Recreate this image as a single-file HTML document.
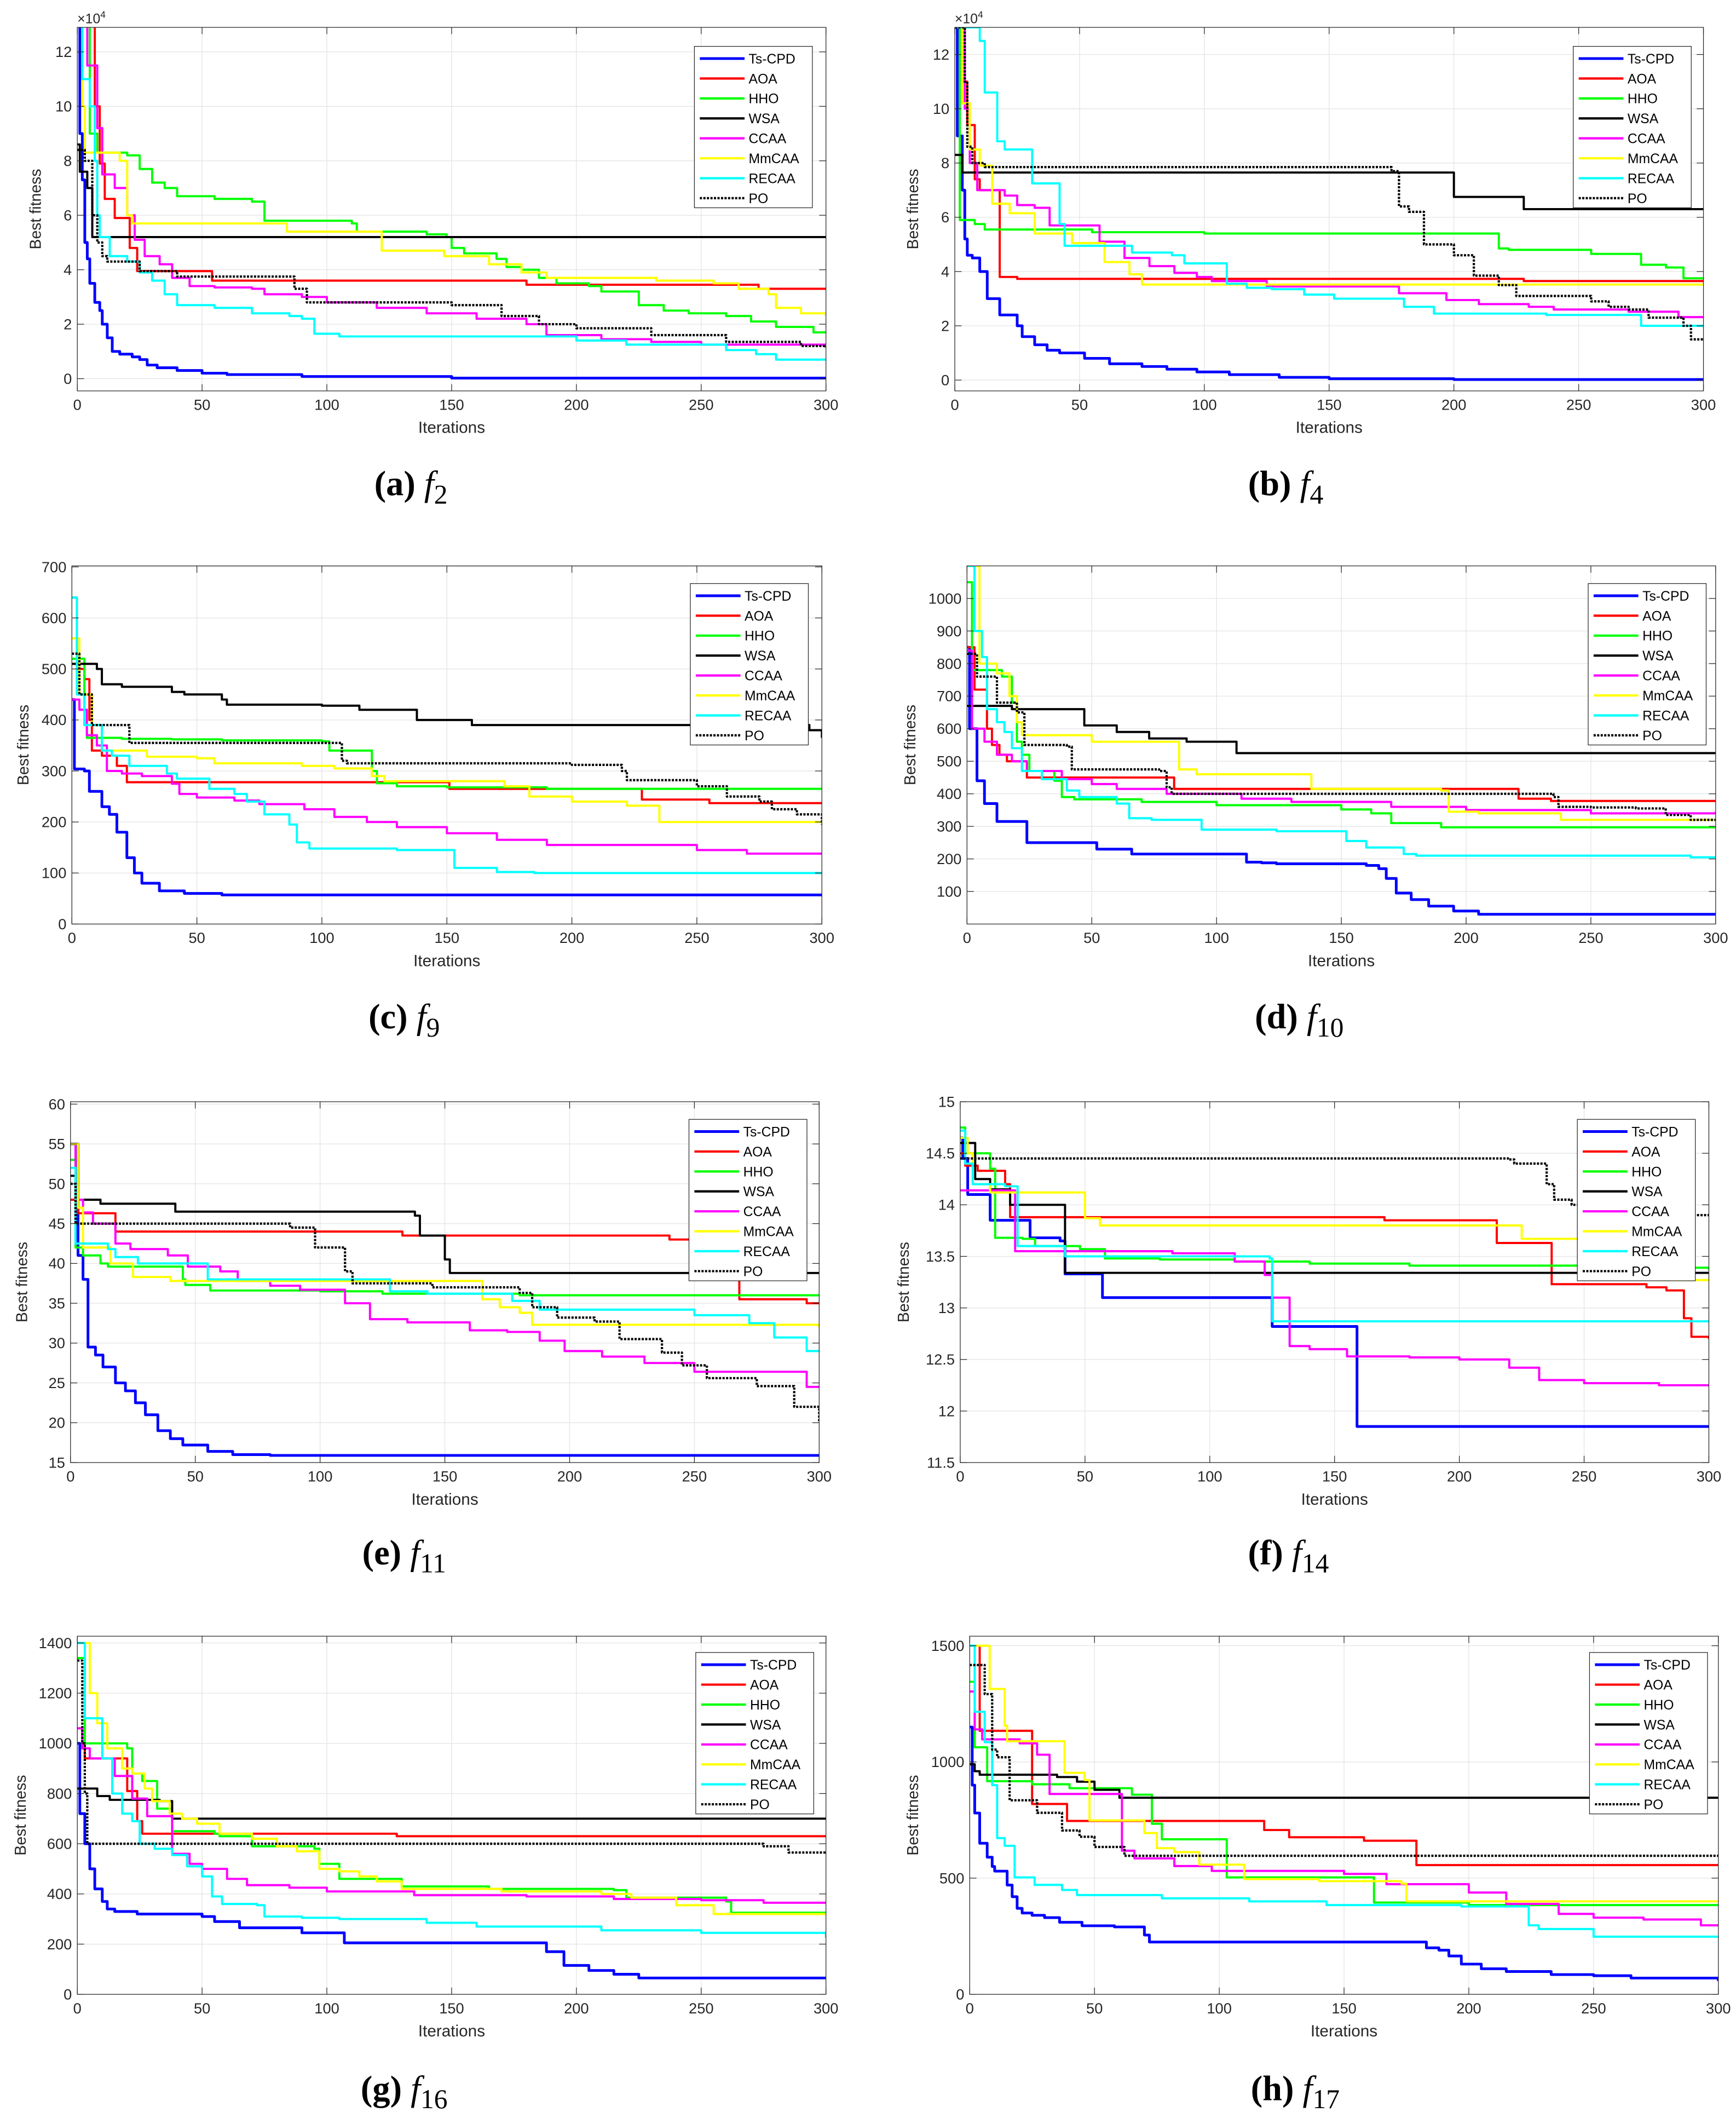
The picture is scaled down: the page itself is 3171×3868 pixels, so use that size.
<!DOCTYPE html>
<html><head><meta charset="utf-8"><style>
html,body{margin:0;padding:0;background:#fff;}
svg{display:block;}
</style></head><body>
<svg id="fig" xmlns="http://www.w3.org/2000/svg" width="3171" height="3868" viewBox="0 0 1280 1561"></svg>
<script>
const algoNames = ["Ts-CPD","AOA","HHO","WSA","CCAA","MmCAA","RECAA","PO"];
const algoColors = ["#0000ff","#ff0000","#00ff00","#000000","#ff00ff","#ffff00","#00ffff","#000000"];
const xTicks = [0,50,100,150,200,250,300];

const f2Series = [
 [[0,13],[1,9],[2,7.3],[3,5],[4,4.4],[5,3.5],[7,2.8],[9,2.5],[10,2],[12,1.5],[14,1],[17,0.9],[22,0.8],[25,0.7],[28,0.5],[32,0.4],[40,0.3],[50,0.2],[60,0.15],[90,0.08],[150,0.02],[300,0.02]],
 [[0,13],[7,10],[9,7.9],[11,6.6],[15,5.9],[21,4.8],[24,3.95],[54,3.6],[180,3.45],[273,3.3],[300,3.3]],
 [[0,13],[5,9],[8,8.3],[20,8.2],[25,7.7],[30,7.2],[35,7],[40,6.7],[55,6.6],[70,6.5],[75,5.8],[110,5.7],[112,5.4],[140,5.3],[148,5.2],[150,4.8],[155,4.6],[168,4.4],[172,4.1],[178,4],[185,3.7],[192,3.5],[205,3.4],[210,3.2],[225,2.7],[235,2.5],[245,2.4],[260,2.3],[270,2.1],[280,1.9],[295,1.7],[300,1.7]],
 [[0,8.6],[1,7.6],[4,7],[6,5.2],[300,5.2]],
 [[0,13],[4,11.5],[8,9.2],[10,7.5],[15,7],[20,6],[23,5.1],[27,4.5],[33,4.2],[38,3.7],[45,3.4],[55,3.35],[70,3.3],[75,3.1],[90,3],[100,2.8],[120,2.6],[140,2.4],[160,2.2],[180,2],[188,1.6],[210,1.45],[230,1.35],[250,1.25],[300,1.15]],
 [[0,13],[2,10],[3,8.3],[17,8],[20,6],[22,5.7],[84,5.4],[122,4.7],[147,4.5],[165,4.2],[178,3.9],[188,3.7],[232,3.6],[255,3.5],[265,3.3],[277,3.1],[280,2.6],[290,2.4],[300,2.3]],
 [[0,13],[2,11],[5,10],[7,8],[8,6],[9,5.2],[13,4.5],[20,4.3],[25,3.9],[30,3.6],[35,3.1],[40,2.7],[55,2.6],[70,2.4],[85,2.3],[90,2.2],[95,1.65],[105,1.55],[200,1.4],[220,1.25],[260,1.05],[272,0.9],[280,0.7],[300,0.7]],
 [[0,8.4],[3,8],[6,6],[8,5],[10,4.5],[12,4.3],[25,3.95],[40,3.75],[87,3.3],[92,2.8],[150,2.7],[170,2.3],[185,2],[200,1.85],[230,1.6],[260,1.35],[290,1.2],[300,1.15]]
];
const f4Series = [
 [[0,13],[1,9],[3,7],[4,5.2],[5,4.6],[7,4.5],[10,4],[13,3],[18,2.4],[25,2],[27,1.6],[32,1.3],[37,1.1],[42,1],[52,0.8],[62,0.6],[75,0.5],[85,0.4],[97,0.3],[110,0.2],[130,0.1],[150,0.05],[200,0.02],[300,0.02]],
 [[0,13],[3,11],[5,9.4],[8,7.4],[10,7.0],[18,3.8],[25,3.73],[228,3.65],[300,3.65]],
 [[0,13],[2,5.9],[8,5.75],[12,5.55],[55,5.45],[100,5.4],[218,4.85],[222,4.8],[255,4.65],[275,4.25],[285,4.15],[292,3.75],[300,3.75]],
 [[0,8.3],[3,7.65],[200,6.75],[228,6.3],[300,6.3]],
 [[0,13],[4,10],[6,8],[9,7.0],[20,6.8],[25,6.45],[32,6.35],[38,5.7],[58,5.1],[68,4.5],[78,4.2],[88,3.95],[97,3.8],[103,3.65],[125,3.45],[178,3.2],[197,2.95],[210,2.8],[230,2.7],[240,2.6],[270,2.52],[290,2.32],[300,2.32]],
 [[0,13],[3,10.2],[6,8.5],[10,7.9],[15,6.5],[18,6.5],[22,6.15],[32,5.4],[47,5.05],[60,4.35],[70,3.9],[75,3.52],[300,3.52]],
 [[0,13],[10,12.5],[12,10.6],[17,8.8],[20,8.5],[31,7.25],[42,5.75],[44,4.95],[71,4.7],[87,4.6],[92,4.3],[109,3.55],[117,3.4],[127,3.35],[140,3.15],[152,3.0],[180,2.7],[192,2.45],[237,2.4],[275,2.0],[300,1.95]],
 [[0,13],[4,11],[5,8.6],[7,8],[12,7.85],[175,7.7],[178,6.4],[182,6.2],[188,5.0],[200,4.6],[208,3.85],[218,3.5],[225,3.1],[255,2.9],[262,2.7],[270,2.6],[278,2.3],[292,2.0],[295,1.5],[300,1.5]]
];
const f9Series = [
 [[0,440],[1,304],[5,300],[7,260],[12,230],[15,215],[18,180],[22,130],[25,100],[28,80],[35,65],[45,60],[60,57],[300,55]],
 [[0,640],[2,500],[5,480],[7,400],[8,340],[12,330],[18,310],[22,278],[151,265],[228,244],[255,237],[300,237]],
 [[0,520],[5,390],[6,365],[20,363],[40,362],[60,360],[100,358],[103,340],[120,300],[122,276],[130,270],[150,268],[190,265],[300,265]],
 [[0,510],[10,500],[12,470],[20,465],[40,455],[45,450],[60,440],[62,430],[100,428],[115,420],[138,400],[160,390],[295,380],[300,365]],
 [[0,440],[3,420],[6,370],[10,350],[14,300],[20,295],[28,290],[40,275],[43,255],[50,248],[65,242],[75,235],[93,225],[105,210],[118,200],[130,190],[150,178],[170,165],[190,155],[250,145],[270,138],[300,136]],
 [[0,560],[3,450],[8,390],[12,340],[16,340],[30,328],[50,325],[57,315],[92,310],[105,305],[120,290],[125,280],[173,270],[183,250],[200,240],[222,232],[235,200],[300,200]],
 [[0,640],[2,450],[5,390],[12,340],[16,330],[23,310],[38,295],[42,285],[55,265],[65,255],[70,240],[77,215],[87,195],[90,160],[95,148],[130,145],[153,110],[170,102],[185,100],[300,100]],
 [[0,530],[3,450],[8,390],[23,355],[108,320],[110,315],[200,312],[220,300],[222,282],[250,270],[262,250],[275,240],[280,225],[290,215],[300,195]]
];
const f10Series = [
 [[0,850],[1,600],[4,440],[7,370],[12,315],[24,250],[52,230],[66,215],[112,190],[118,188],[124,185],[160,180],[165,170],[168,140],[172,95],[178,75],[185,55],[195,40],[205,30],[300,27]],
 [[0,850],[3,720],[8,600],[10,550],[13,520],[16,500],[24,450],[83,415],[221,385],[234,378],[300,378]],
 [[0,1050],[2,780],[14,760],[18,680],[20,560],[22,520],[25,470],[35,440],[38,390],[43,383],[70,375],[100,365],[150,352],[162,340],[170,310],[190,297],[300,295]],
 [[0,670],[18,660],[47,610],[60,590],[73,570],[88,560],[108,525],[300,525]],
 [[0,840],[2,600],[7,560],[12,520],[18,500],[24,470],[38,445],[50,430],[60,415],[80,400],[110,385],[130,375],[170,360],[200,350],[250,340],[300,345]],
 [[0,1100],[5,800],[12,770],[17,700],[20,620],[22,580],[50,560],[85,475],[92,460],[138,415],[190,410],[193,345],[205,340],[238,320],[300,320]],
 [[0,1100],[3,900],[6,820],[8,660],[12,620],[15,590],[18,540],[22,470],[30,445],[40,410],[45,390],[60,370],[65,325],[74,320],[94,290],[124,285],[152,255],[160,235],[175,215],[180,210],[290,205],[300,205]],
 [[0,830],[4,760],[12,680],[20,650],[23,550],[40,545],[42,475],[77,470],[80,420],[82,400],[235,390],[237,360],[250,358],[268,355],[280,335],[290,320],[300,318]]
];
const f11Series = [
 [[0,55],[3,41],[5,38],[7,29.5],[10,28.5],[13,27],[18,25],[22,24],[26,22.5],[30,21],[35,19],[40,18],[45,17.2],[55,16.4],[65,16],[80,15.9],[300,15.8]],
 [[0,48],[3,46.3],[18,44],[133,43.5],[240,43],[268,35.5],[295,35],[300,35]],
 [[0,53],[2,42],[5,41],[12,40],[15,39.6],[45,38],[46,37.3],[56,36.6],[100,36.5],[125,36.2],[180,36],[300,36]],
 [[0,51],[2,48],[12,47.5],[42,46.5],[138,46],[140,43.5],[150,40.5],[152,38.8],[300,38.7]],
 [[0,55],[2,48],[5,46.4],[9,45],[18,42.5],[24,41.8],[39,41],[47,39.6],[60,39],[67,37.8],[80,37.2],[92,36.7],[110,35],[120,33],[135,32.6],[160,31.6],[175,31.4],[188,30.3],[198,29],[213,28.3],[230,27.5],[250,26.4],[295,24.5],[300,24.5]],
 [[0,55],[3,47],[5,42],[16,40],[25,38.3],[40,37.8],[160,37.8],[165,35.5],[172,34.5],[180,33.8],[185,32.3],[300,32]],
 [[0,52],[2,42.5],[15,41.8],[18,40.8],[27,40],[55,38],[128,36.5],[143,36.2],[177,35.3],[188,34.2],[250,33.5],[272,32.5],[282,30.7],[295,29],[300,29]],
 [[0,50],[2,45],[88,44.5],[98,42],[110,39],[113,37.5],[145,37],[180,36.3],[185,34.5],[195,33.2],[210,32.7],[220,30.5],[237,28.8],[245,27.2],[255,25.6],[275,24.6],[290,22],[300,20]]
];
const f14Series = [
 [[0,14.65],[1,14.45],[3,14.1],[12,13.85],[28,13.68],[40,13.65],[42,13.33],[57,13.1],[125,12.82],[159,11.85],[300,11.85]],
 [[0,14.5],[2,14.38],[7,14.33],[18,14.2],[20,13.88],[170,13.85],[215,13.63],[237,13.23],[275,13.2],[283,13.17],[290,12.9],[293,12.72],[300,12.7]],
 [[0,14.75],[2,14.5],[12,14.35],[14,13.68],[25,13.67],[30,13.6],[45,13.6],[48,13.57],[58,13.48],[80,13.47],[110,13.45],[140,13.43],[180,13.41],[250,13.39],[300,13.37]],
 [[0,14.6],[6,14.25],[12,14.15],[20,14.0],[42,13.34],[300,13.34]],
 [[0,14.14],[20,14.14],[22,13.55],[85,13.53],[110,13.45],[122,13.32],[125,13.1],[132,12.63],[140,12.6],[155,12.53],[180,12.52],[200,12.5],[220,12.42],[232,12.3],[250,12.27],[280,12.25],[300,12.25]],
 [[0,14.65],[3,14.5],[5,14.2],[12,14.12],[50,13.87],[56,13.8],[225,13.67],[280,13.27],[300,13.27]],
 [[0,14.72],[2,14.4],[5,14.2],[18,14.18],[23,13.6],[42,13.5],[110,13.5],[124,13.48],[125,12.87],[300,12.87]],
 [[0,14.45],[220,14.44],[222,14.4],[235,14.2],[238,14.05],[245,14.0],[280,13.9],[300,13.88]]
];
const f16Series = [
 [[0,1000],[1,720],[3,600],[5,500],[7,420],[10,370],[12,340],[15,330],[24,320],[50,310],[55,290],[65,265],[90,245],[107,205],[185,205],[188,170],[195,115],[205,95],[215,80],[225,65],[300,62]],
 [[0,1060],[2,1000],[3,940],[20,810],[24,690],[26,640],[125,640],[128,630],[300,630]],
 [[0,1340],[3,1000],[20,980],[22,880],[26,850],[32,740],[38,650],[55,640],[57,630],[70,590],[95,580],[97,520],[105,460],[130,430],[165,420],[215,415],[220,385],[260,370],[262,325],[300,325]],
 [[0,820],[8,790],[13,775],[33,770],[38,700],[300,700]],
 [[0,1060],[2,980],[5,940],[15,870],[22,780],[28,710],[38,560],[45,520],[50,500],[57,500],[60,460],[68,435],[85,425],[100,410],[135,395],[180,390],[215,380],[250,375],[275,365],[300,360]],
 [[0,1400],[5,1200],[8,1080],[12,980],[18,900],[22,880],[27,820],[30,770],[37,720],[42,700],[48,680],[57,640],[70,620],[80,590],[88,570],[97,500],[105,490],[113,470],[120,450],[130,420],[170,410],[210,400],[222,385],[240,355],[255,320],[300,320]],
 [[0,1400],[3,1100],[10,940],[14,800],[18,720],[22,690],[25,600],[31,580],[38,555],[44,510],[50,470],[54,390],[58,360],[72,355],[75,310],[90,305],[105,300],[140,285],[160,270],[210,255],[250,245],[300,225]],
 [[0,1330],[2,1000],[3,800],[4,600],[270,600],[275,590],[285,565],[300,565]]
];
const f17Series = [
 [[0,1150],[1,900],[2,780],[4,650],[7,590],[9,550],[10,530],[15,470],[17,420],[19,370],[21,350],[25,340],[30,330],[36,310],[45,295],[58,290],[70,255],[72,225],[180,225],[183,200],[188,190],[192,165],[197,130],[205,110],[215,98],[233,85],[250,80],[265,70],[300,57]],
 [[0,1500],[4,1134],[25,819],[39,746],[115,746],[118,707],[128,676],[158,661],[179,556],[300,556]],
 [[0,1345],[2,1063],[7,917],[25,904],[40,887],[65,859],[73,734],[77,667],[103,503],[162,395],[200,384],[300,384]],
 [[0,990],[2,960],[4,945],[35,935],[43,915],[50,880],[60,846],[300,846]],
 [[0,1303],[2,1140],[5,1097],[20,1080],[27,1031],[32,862],[61,618],[66,585],[82,552],[97,531],[150,518],[167,474],[200,438],[215,389],[236,346],[250,330],[270,322],[293,297],[300,297]],
 [[0,1500],[8,1314],[14,1156],[15,1089],[38,953],[46,922],[48,748],[70,694],[75,629],[82,612],[92,558],[110,496],[140,487],[173,476],[175,400],[300,400]],
 [[0,1500],[2,1216],[6,1085],[9,900],[11,672],[14,639],[18,503],[26,471],[37,449],[43,427],[77,413],[112,400],[143,384],[197,378],[224,297],[228,281],[250,248],[300,248]],
 [[0,1417],[6,1292],[9,1053],[11,1020],[16,835],[27,781],[37,705],[44,678],[50,634],[62,596],[300,596]]
];
const f2YTicks=[0,2,4,6,8,10,12], f4YTicks=[0,2,4,6,8,10,12], f9YTicks=[0,100,200,300,400,500,600,700];
const f10YTicks=[100,200,300,400,500,600,700,800,900,1000], f11YTicks=[15,20,25,30,35,40,45,50,55,60];
const f14YTicks=[11.5,12,12.5,13,13.5,14,14.5,15], f16YTicks=[0,200,400,600,800,1000,1200,1400], f17YTicks=[0,500,1000,1500];

const panels = [
 {id:"f2",letter:"a",sub:"2",L:57,R:609,T:20,B:288,ymin:-0.45,ymax:12.9,ticks:f2YTicks,data:f2Series,exp:true,leg:[512,34],cap:[303,357]},
 {id:"f4",letter:"b",sub:"4",L:704,R:1256,T:20,B:288,ymin:-0.4,ymax:13.0,ticks:f4YTicks,data:f4Series,exp:true,leg:[1160,34],cap:[948,357]},
 {id:"f9",letter:"c",sub:"9",L:53,R:606,T:417,B:681,ymin:0,ymax:702,ticks:f9YTicks,data:f9Series,leg:[509,430],cap:[298,750]},
 {id:"f10",letter:"d",sub:"10",L:713,R:1265,T:417,B:681,ymin:0,ymax:1100,ticks:f10YTicks,data:f10Series,leg:[1171,430],cap:[958,750]},
 {id:"f11",letter:"e",sub:"11",L:52,R:604,T:812,B:1078,ymin:15,ymax:60.3,ticks:f11YTicks,data:f11Series,leg:[508,825],cap:[298,1145]},
 {id:"f14",letter:"f",sub:"14",L:708,R:1260,T:812,B:1078,ymin:11.5,ymax:15,ticks:f14YTicks,data:f14Series,leg:[1163,825],cap:[950,1145]},
 {id:"f16",letter:"g",sub:"16",L:57,R:609,T:1206,B:1470,ymin:0,ymax:1427,ticks:f16YTicks,data:f16Series,leg:[513,1218],cap:[298,1540]},
 {id:"f17",letter:"h",sub:"17",L:715,R:1267,T:1206,B:1470,ymin:0,ymax:1541,ticks:f17YTicks,data:f17Series,leg:[1172,1218],cap:[955,1540]}
];

const NS="http://www.w3.org/2000/svg";
const svg=document.getElementById('fig');
function mk(tag,attrs,parent){const e=document.createElementNS(NS,tag);for(const k in attrs)e.setAttribute(k,attrs[k]);(parent||svg).appendChild(e);return e;}
const FONT='"Liberation Sans Narrow","Liberation Sans",sans-serif';
const defs=mk('defs',{});

panels.forEach(p=>{
  const g=mk('g',{});
  
  
  const xs=v=>p.L+(v/300)*(p.R-p.L);
  const ys=v=>p.B-(v-p.ymin)/(p.ymax-p.ymin)*(p.B-p.T);
  const cp=mk('clipPath',{id:'clip-'+p.id},defs);
  mk('rect',{x:p.L,y:p.T,width:p.R-p.L,height:p.B-p.T},cp);
  xTicks.forEach(t=>{
    const l=mk('line',{x1:xs(t),x2:xs(t),y1:p.T,y2:p.B,stroke:'#e3e3e3','stroke-width':0.5},g);
    
    
  });
  p.ticks.forEach(t=>{
    const l=mk('line',{x1:p.L,x2:p.R,y1:ys(t),y2:ys(t),stroke:'#e3e3e3','stroke-width':0.5},g);
    
    
  });
  const sg=mk('g',{'clip-path':'url(#clip-'+p.id+')'},g);
  p.data.forEach((s,i)=>{
    let d='M'+xs(s[0][0]).toFixed(2)+','+ys(s[0][1]).toFixed(2);
    for(let k=1;k<s.length;k++){d+='H'+xs(s[k][0]).toFixed(2)+'V'+ys(s[k][1]).toFixed(2);}
    const a={d:d,fill:'none',stroke:algoColors[i],'stroke-width':i===0?2.0:1.6,'stroke-linejoin':'round'};
    if(i===7){a['stroke-dasharray']='1.6,1.0';a['stroke-width']=1.7;}
    const path=mk('path',a,sg);
    
    
  });
  const box=mk('rect',{x:p.L,y:p.T,width:p.R-p.L,height:p.B-p.T,fill:'none',stroke:'#262626','stroke-width':0.5},g);
  
  
  xTicks.forEach(t=>{
    mk('line',{x1:xs(t),x2:xs(t),y1:p.B,y2:p.B-5,stroke:'#262626','stroke-width':0.5},g);
    mk('line',{x1:xs(t),x2:xs(t),y1:p.T,y2:p.T+5,stroke:'#262626','stroke-width':0.5},g);
    const tx=mk('text',{x:xs(t),y:p.B+14,'text-anchor':'middle','font-family':FONT,'font-size':11,fill:'#262626'},g);
    tx.textContent=t;
    
    
  });
  p.ticks.forEach(t=>{
    mk('line',{x1:p.L,x2:p.L+5,y1:ys(t),y2:ys(t),stroke:'#262626','stroke-width':0.5},g);
    mk('line',{x1:p.R,x2:p.R-5,y1:ys(t),y2:ys(t),stroke:'#262626','stroke-width':0.5},g);
    const ty=mk('text',{x:p.L-4,y:ys(t)+3.8,'text-anchor':'end','font-family':FONT,'font-size':11,fill:'#262626'},g);
    ty.textContent=t;
    
    
  });
  if(p.exp){
    const ex=mk('text',{x:p.L,y:p.T-3,'font-family':FONT,'font-size':10,fill:'#262626'},g);
    ex.textContent='×10';
    const sp=mk('tspan',{dy:-4,'font-size':7},ex); sp.textContent='4';
    
    
  }
  const xl=mk('text',{x:(p.L+p.R)/2,y:p.B+31,'text-anchor':'middle','font-family':FONT,'font-size':12,fill:'#262626'},g);
  xl.textContent='Iterations';
  
  
  const yx=p.L-(p.id==='f2'||p.id==='f4'?27:(p.id==='f9'||p.id==='f11'?32:38)), yy=(p.T+p.B)/2;
  const yl=mk('text',{x:yx,y:yy,'text-anchor':'middle','font-family':'"Liberation Sans",sans-serif','font-size':11.5,fill:'#262626',transform:'rotate(-90 '+yx+' '+yy+')'},g);
  yl.textContent='Best fitness';
  
  
  const lg=mk('g',{},g);
  
  
  const lx=p.leg[0], ly=p.leg[1];
  mk('rect',{x:lx,y:ly,width:87,height:119,fill:'#fff',stroke:'#262626','stroke-width':0.5},lg);
  algoNames.forEach((n,i)=>{
    const yy2=ly+9+14.7*i;
    const la={x1:lx+4,x2:lx+37,y1:yy2,y2:yy2,stroke:algoColors[i],'stroke-width':i===0?2.0:1.7};
    if(i===7){la['stroke-dasharray']='1.6,1.0';}
    const ll=mk('line',la,lg);
    
    
    const lt=mk('text',{x:lx+40,y:yy2+3.6,'font-family':FONT,'font-size':10,fill:'#000'},lg);
    lt.textContent=n;
    
    
  });
  const c=mk('text',{x:p.cap[0],y:p.cap[1]+8,'text-anchor':'middle','font-family':'"Liberation Serif",serif','font-size':26,fill:'#000'},g);
  const t1=mk('tspan',{'font-weight':'bold'},c); t1.textContent='('+p.letter+') ';
  const t2=mk('tspan',{'font-style':'italic'},c); t2.textContent='f';
  const t3=mk('tspan',{dy:6,'font-size':20},c); t3.textContent=p.sub;
  
  
});
</script>
</body></html>
